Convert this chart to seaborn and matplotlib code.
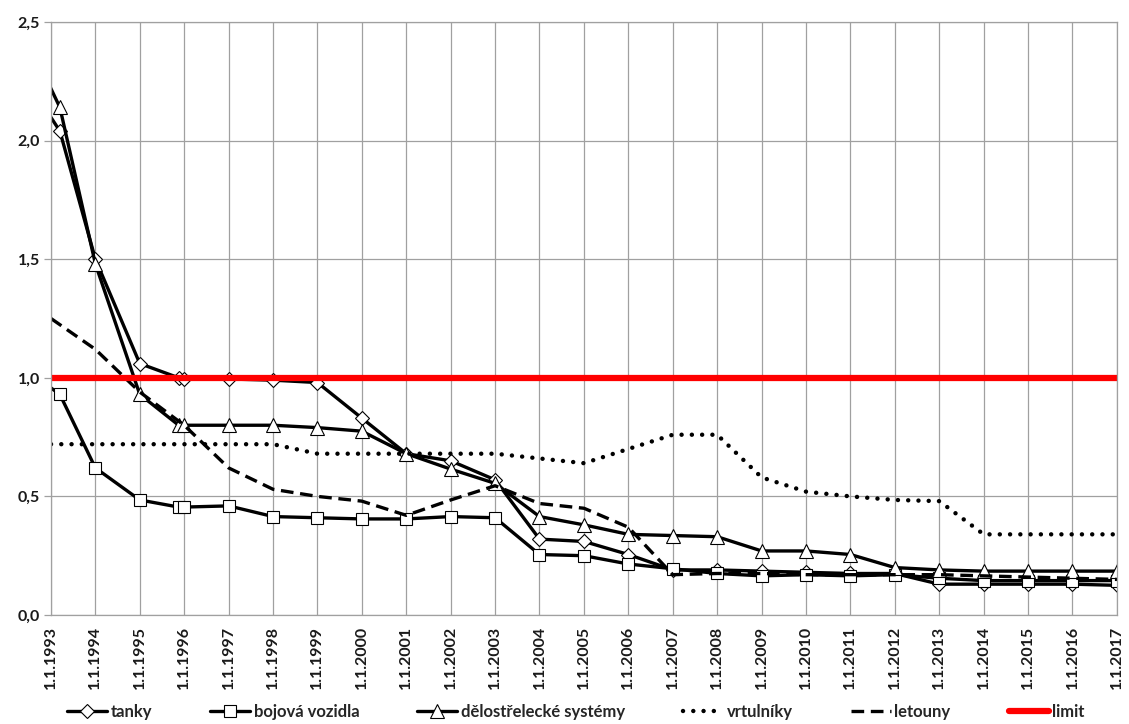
import matplotlib
matplotlib.use("Agg")
import matplotlib.pyplot as plt
import seaborn as sns
import pandas as pd
import numpy as np

C_GRID = "#a0a0a0"
C_TEXT = "#1a1a1a"

# dates of the tracked-weapon series (first point lies before the axis start)
datas_armadni = ["1992-07-17", "1993-03-15", "1994-01-01", "1995-01-01", "1995-11-17",
                 "1996-01-01", "1997-01-01", "1998-01-01", "1999-01-01", "2000-01-01",
                 "2001-01-01", "2002-01-01", "2003-01-01", "2004-01-01", "2005-01-01",
                 "2006-01-01", "2007-01-01", "2008-01-01", "2009-01-01", "2010-01-01",
                 "2011-01-01", "2012-01-01", "2013-01-01", "2014-01-01", "2015-01-01",
                 "2016-01-01", "2017-01-01"]
tanky = [2.23, 2.04, 1.50, 1.06, 1.00, 0.995, 0.995, 0.99, 0.98, 0.83, 0.68, 0.65, 0.57,
         0.32, 0.31, 0.255, 0.19, 0.19, 0.185, 0.18, 0.175, 0.175, 0.13, 0.13, 0.13, 0.13, 0.125]
bojova_vozidla = [1.02, 0.93, 0.62, 0.485, 0.455, 0.455, 0.46, 0.415, 0.41, 0.405, 0.405,
                  0.415, 0.41, 0.255, 0.25, 0.215, 0.195, 0.175, 0.165, 0.17, 0.165, 0.17,
                  0.155, 0.145, 0.145, 0.145, 0.145]
delostrelecke = [2.40, 2.14, 1.48, 0.93, 0.80, 0.80, 0.80, 0.80, 0.79, 0.775, 0.68, 0.615,
                 0.555, 0.415, 0.38, 0.34, 0.335, 0.33, 0.27, 0.27, 0.255, 0.20, 0.19,
                 0.185, 0.185, 0.185, 0.185]

# yearly series
roky = list(range(1993, 2018))
datas_rocni = [f"{r}-01-01" for r in roky]
vrtulniky = [0.72, 0.72, 0.72, 0.72, 0.72, 0.72, 0.68, 0.68, 0.68, 0.68, 0.68, 0.66, 0.64,
             0.70, 0.76, 0.76, 0.58, 0.52, 0.50, 0.485, 0.48, 0.34, 0.34, 0.34, 0.34]
letouny = [1.25, 1.12, 0.94, 0.80, 0.62, 0.53, 0.50, 0.48, 0.42, 0.485, 0.545, 0.47, 0.45,
           0.37, 0.17, 0.175, 0.175, 0.17, 0.17, 0.17, 0.17, 0.165, 0.16, 0.155, 0.15]

datas_limit = ["1993-01-01", "2017-01-01"]
limit = [1.0, 1.0]

popisky_x = [f"1.1.{r}" for r in roky]
ticky_y = [0.0, 0.5, 1.0, 1.5, 2.0, 2.5]
popisky_y = ["0,0", "0,5", "1,0", "1,5", "2,0", "2,5"]

sns.set_theme(style="whitegrid")
plt.rcParams['font.family'] = ['Lato', 'DejaVu Sans']

fig = plt.figure(figsize=(11.29, 7.24), dpi=100)
ax = fig.add_axes([51 / 1129, 1 - 615 / 724, (1117 - 51) / 1129, (615 - 22) / 724])

marker_style = dict(markerfacecolor="white", markeredgecolor="black", markeredgewidth=0.8)

d_arm = pd.to_datetime(datas_armadni)
d_roc = pd.to_datetime(datas_rocni)

sns.lineplot(x=d_arm, y=tanky, ax=ax, color="black", lw=2.4, marker="D", markersize=7,
             label="tanky", sort=False, estimator=None, **marker_style)
sns.lineplot(x=d_arm, y=bojova_vozidla, ax=ax, color="black", lw=2.4, marker="s", markersize=9,
             label="bojová vozidla", sort=False, estimator=None, **marker_style)
sns.lineplot(x=d_arm, y=delostrelecke, ax=ax, color="black", lw=2.4, marker="^", markersize=10,
             label="dělostřelecké systémy", sort=False, estimator=None, **marker_style)
sns.lineplot(x=d_roc, y=vrtulniky, ax=ax, color="black", lw=3.2, linestyle=(0, (0.01, 2.3)),
             dash_capstyle="round", label="vrtulníky", sort=False, estimator=None)
sns.lineplot(x=d_roc, y=letouny, ax=ax, color="black", lw=2.4, linestyle=(0, (3.8, 2.0)),
             label="letouny", sort=False, estimator=None)
sns.lineplot(x=pd.to_datetime(datas_limit), y=limit, ax=ax, color="#ff0000", lw=4.5,
             label="limit", sort=False, estimator=None)

ax.set_xlim(pd.Timestamp("1993-01-01"), pd.Timestamp("2017-01-01"))
ax.set_ylim(0, 2.5)
ax.set_xticks(d_roc)
ax.set_xticklabels(popisky_x, rotation=90, fontsize=11.5, fontweight="bold", color=C_TEXT)
ax.set_yticks(ticky_y)
ax.set_yticklabels(popisky_y, fontsize=11.5, fontweight="bold", color=C_TEXT)
ax.set_xlabel("")
ax.set_ylabel("")

ax.grid(True, color=C_GRID, lw=0.9)
for s in ax.spines.values():
    s.set_color(C_GRID)
    s.set_linewidth(0.9)
ax.tick_params(axis="y", length=5, width=0.9, color=C_GRID, pad=3, left=True)
ax.tick_params(axis="x", length=0, pad=8)

handles, labels = ax.get_legend_handles_labels()
ax.get_legend().remove()
fig.legend(handles, labels, loc="center left", bbox_to_anchor=(67 / 1129, 1 - 712 / 724),
           ncol=6, frameon=False, handlelength=2.4, handletextpad=0.2,
           columnspacing=3.5, borderpad=0, borderaxespad=0,
           prop={"weight": "bold", "size": 12})

fig.savefig("out.png", dpi=100, facecolor="white")
